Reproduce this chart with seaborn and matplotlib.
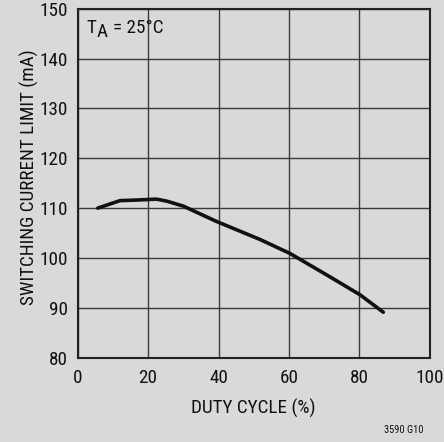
import matplotlib
matplotlib.use("Agg")
import matplotlib.pyplot as plt
import seaborn as sns
import pandas as pd
from matplotlib import font_manager

duty_cycle = [5.7, 12, 16, 22.4, 25.3, 30, 39.5, 51.8, 60.3, 70.7, 80.2, 86.8]
current_limit = [110.0, 111.5, 111.6, 111.8, 111.4, 110.4, 107.3, 103.7, 100.9, 96.6, 92.6, 89.1]
x_ticks = [0, 20, 40, 60, 80, 100]
y_ticks = [80, 90, 100, 110, 120, 130, 140, 150]

df = pd.DataFrame({"duty": duty_cycle, "ilim": current_limit})

sns.set_theme(style="white")
names = {f.name for f in font_manager.fontManager.ttflist}
fams = [f for f in ["Roboto Condensed", "Archivo Narrow", "PT Sans Narrow"] if f in names]
plt.rcParams["font.family"] = fams + ["DejaVu Sans"]

bg = "#d9d9d9"
ink = "#111111"
fs = 13.8
fig = plt.figure(figsize=(4.44, 4.42), dpi=100, facecolor=bg)
ax = fig.add_axes([0.175, 0.191, 0.793, 0.789], facecolor=bg)

sns.lineplot(data=df, x="duty", y="ilim", ax=ax, color=ink, linewidth=2.6)

ax.set_xlim(0, 100)
ax.set_ylim(80, 150)
ax.set_xticks(x_ticks)
ax.set_yticks(y_ticks)
ax.grid(True, color="#3a3a3a", linewidth=1.0)
for s in ax.spines.values():
    s.set_color("#222222")
    s.set_linewidth(1.5)
ax.tick_params(axis="x", labelsize=fs, length=0, pad=8, colors=ink)
ax.tick_params(axis="y", labelsize=fs, length=0, pad=7, colors=ink)
ax.set_xlabel("DUTY CYCLE (%)", fontsize=fs, color=ink, labelpad=9)
ax.set_ylabel("SWITCHING CURRENT LIMIT (mA)", fontsize=fs, color=ink)
ax.yaxis.set_label_coords(-0.11, 0.518)

t1 = ax.text(0.025, 0.92, "T", transform=ax.transAxes, fontsize=fs,
             va="bottom", ha="left", color=ink)
t2 = ax.annotate("A", xy=(1, 0), xycoords=t1, xytext=(0.3, -3.0),
                 textcoords="offset points", fontsize=fs, va="bottom", ha="left", color=ink)
ax.annotate("= 25°C", xy=(1, 0), xycoords=t2, xytext=(3.5, 3.0),
            textcoords="offset points", fontsize=fs, va="bottom", ha="left", color=ink)

fig.text(0.953, 0.027, "3590 G10", fontsize=7.5, ha="right", va="center", color=ink)

fig.savefig("out.png", dpi=100, facecolor=bg)
